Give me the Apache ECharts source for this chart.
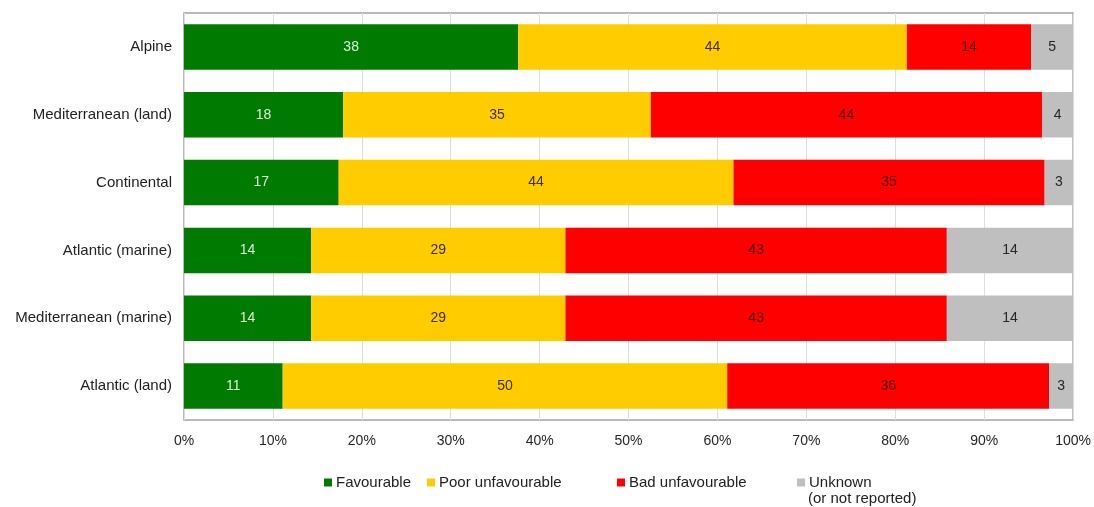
<!DOCTYPE html>
<html lang="en">
<head>
    <meta charset="UTF-8">
    <title>Conservation status by region</title>
    <script src="https://cdn.jsdelivr.net/npm/echarts@6/dist/echarts.min.js"></script>
    <style>
        html, body { margin: 0; padding: 0; background: #fff; }
        #main { width: 1094px; height: 507px; }
    </style>
</head>
<body>
<div id="main"></div>
<script type="text/javascript">
    // data (percent of each row)
    var regions = ['Alpine', 'Mediterranean (land)', 'Continental', 'Atlantic (marine)', 'Mediterranean (marine)', 'Atlantic (land)'];
    var favourable = [37.6, 17.9, 17.4, 14.3, 14.3, 11.1];
    var poorUnfav = [43.7, 34.6, 44.4, 28.6, 28.6, 50.0];
    var badUnfav = [14.0, 44.0, 35.0, 42.9, 42.9, 36.2];
    var unknown = [4.7, 3.5, 3.2, 14.2, 14.2, 2.7];
    var xTicks = [0, 10, 20, 30, 40, 50, 60, 70, 80, 90, 100];

    var font = 'Liberation Sans, Arial, sans-serif';
    var myChart = echarts.init(document.getElementById('main'));

    function barSeries(name, data, color, labelColor) {
        return {
            name: name,
            type: 'bar',
            stack: 'total',
            barCategoryGap: '33%',
            data: data,
            itemStyle: { color: color },
            label: {
                show: true,
                position: 'inside',
                color: labelColor,
                fontFamily: font,
                fontSize: 14,
                formatter: function (p) { return Math.round(p.value); }
            }
        };
    }

    // one legend per item, Excel puts them at uneven spacing
    function legendAt(name, left, top) {
        return {
            data: [name],
            left: left,
            top: top,
            padding: 0,
            icon: 'rect',
            itemWidth: 8,
            itemHeight: 8,
            itemGap: 0,
            selectedMode: false,
            textStyle: { color: '#222', fontFamily: font, fontSize: 15, padding: [0, 0, 0, -1] }
        };
    }

    var option = {
        animation: false,
        grid: {
            left: 184,
            right: 20,
            top: 13,
            bottom: 87,
            show: true,
            borderColor: '#a3a3a3',
            borderWidth: 1.5
        },
        legend: [
            legendAt('Favourable', 324, 475),
            legendAt('Poor unfavourable', 427, 475),
            legendAt('Bad unfavourable', 617, 475),
            legendAt('Unknown', 797, 475)
        ],
        graphic: [{
            type: 'text',
            left: 808,
            top: 491,
            style: {
                text: '(or not reported)',
                fill: '#222',
                font: '15px ' + font
            }
        }],
        xAxis: {
            type: 'value',
            min: xTicks[0],
            max: xTicks[xTicks.length - 1],
            interval: 10,
            axisLine: { show: false },
            axisTick: { show: false },
            splitLine: { show: true, lineStyle: { color: '#dedede', width: 1 } },
            axisLabel: {
                color: '#262626',
                fontFamily: font,
                fontSize: 14,
                margin: 14,
                formatter: '{value}%'
            }
        },
        yAxis: {
            type: 'category',
            inverse: true,
            data: regions,
            axisLine: { show: false },
            axisTick: { show: false },
            axisLabel: {
                color: '#222',
                fontFamily: font,
                fontSize: 15,
                margin: 12
            }
        },
        series: [
            barSeries('Favourable', favourable, '#007a00', '#dcefdc'),
            barSeries('Poor unfavourable', poorUnfav, '#ffcc00', '#3a3000'),
            barSeries('Bad unfavourable', badUnfav, '#ff0000', '#4a0000'),
            barSeries('Unknown', unknown, '#bfbfbf', '#262626')
        ]
    };

    myChart.setOption(option);
</script>
</body>
</html>
